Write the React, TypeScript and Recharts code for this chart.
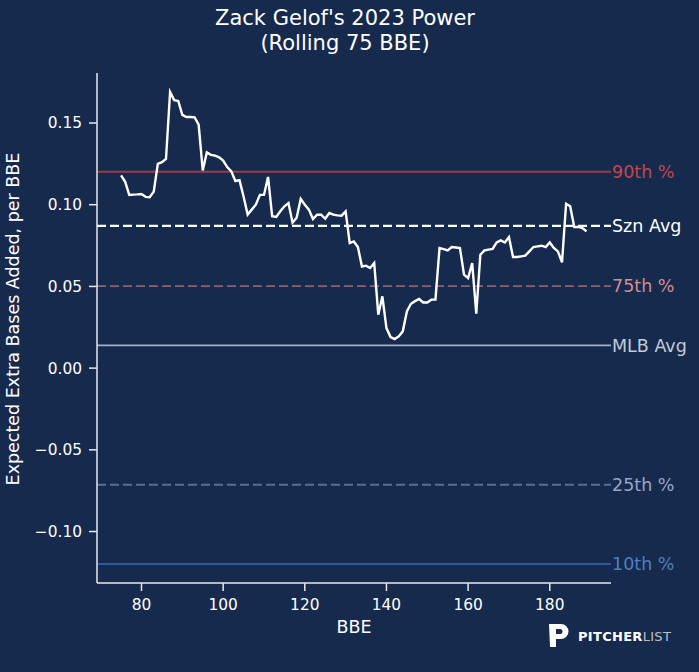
import React from 'react';
import { LineChart, Line, XAxis, YAxis, ReferenceLine } from 'recharts';

// rolling 75 BBE window end (x) and expected extra bases added per BBE (y)
const bbe: number[] = [
  75, 76, 77, 78, 79, 80, 81, 82, 83, 84, 85, 86, 87, 88, 89, 90, 91, 92, 93, 94,
  95, 96, 97, 98, 99, 100, 101, 102, 103, 104, 105, 106, 107, 108, 109, 110, 111, 112, 113, 114,
  115, 116, 117, 118, 119, 120, 121, 122, 123, 124, 125, 126, 127, 128, 129, 130, 131, 132, 133, 134,
  135, 136, 137, 138, 139, 140, 141, 142, 143, 144, 145, 146, 147, 148, 149, 150, 151, 152, 153, 154,
  155, 156, 157, 158, 159, 160, 161, 162, 163, 164, 165, 166, 167, 168, 169, 170, 171, 172, 173, 174,
  175, 176, 177, 178, 179, 180, 181, 182, 183, 184, 185, 186, 187, 188, 189,
];

const xeba: number[] = [
  0.118, 0.114, 0.106, 0.1062, 0.1063, 0.1065, 0.1048, 0.1046, 0.108, 0.125,
  0.126, 0.128, 0.169, 0.164, 0.1635, 0.155, 0.1537, 0.1537, 0.1535, 0.149,
  0.121, 0.132, 0.1305, 0.13, 0.129, 0.127, 0.123, 0.1204, 0.1145, 0.115,
  0.105, 0.094, 0.097, 0.1, 0.106, 0.106, 0.117, 0.093, 0.0925, 0.096,
  0.099, 0.101, 0.089, 0.092, 0.1035, 0.1, 0.097, 0.0912, 0.0939, 0.0939,
  0.0914, 0.0949, 0.0939, 0.0935, 0.0933, 0.0959, 0.0765, 0.0775, 0.0741, 0.0622,
  0.0627, 0.0613, 0.0643, 0.0327, 0.0439, 0.0245, 0.019, 0.0178, 0.0194, 0.0225,
  0.0347, 0.0394, 0.041, 0.0423, 0.0402, 0.0402, 0.0419, 0.0419, 0.0735, 0.0728,
  0.072, 0.0741, 0.0738, 0.0735, 0.0572, 0.0551, 0.0643, 0.0333, 0.0694, 0.072,
  0.0725, 0.0729, 0.0769, 0.0782, 0.0769, 0.0802, 0.068, 0.068, 0.0684, 0.0688,
  0.0714, 0.0741, 0.0745, 0.0749, 0.0741, 0.0769, 0.0735, 0.0714, 0.0647, 0.1006,
  0.099, 0.0864, 0.0864, 0.0857, 0.0837,
];

const refLabels = ['90th %', 'Szn Avg', '75th %', 'MLB Avg', '25th %', '10th %'];
const refValues = [0.1202, 0.087, 0.0502, 0.0139, -0.0714, -0.1199];
const refLineColors = ['#a13a43', '#ffffff', '#8a6172', '#a7b1c4', '#5b6f95', '#2b5aa2'];
const refTextColors = ['#c2474d', '#ffffff', '#d28d8d', '#c2cad8', '#93a6c7', '#4f7fc1'];
const refDashed = [false, true, true, false, true, false];

const xTicks = [80, 100, 120, 140, 160, 180];
const yTicks = [-0.1, -0.05, 0, 0.05, 0.1, 0.15];

const BG = '#162a4d';
const FONT = '"DejaVu Sans", sans-serif';
const AXIS = '#e8e8e8';

const data = bbe.map((b, i) => ({ bbe: b, xeba: xeba[i] }));

const fmtY = (v: number) => (v < 0 ? '\u2212' : '') + Math.abs(v).toFixed(2);

export default function App() {
  return (
    <div style={{ position: 'absolute', left: 0, top: 0, width: 699, height: 672, background: BG, fontFamily: FONT }}>
      <LineChart width={699} height={672} data={data} margin={{ top: 73, right: 88, left: 0, bottom: 0 }}>
        <XAxis
          dataKey="bbe"
          type="number"
          domain={[69.1, 195]}
          allowDataOverflow
          ticks={xTicks}
          height={89}
          stroke={AXIS}
          strokeWidth={1.5}
          tickSize={8}
          tickMargin={8}
          tick={{ fill: '#ffffff', fontSize: 15.4, fontFamily: FONT }}
        />
        <YAxis
          type="number"
          domain={[-0.1315, 0.1806]}
          allowDataOverflow
          ticks={yTicks}
          width={97}
          stroke={AXIS}
          strokeWidth={1.5}
          tickSize={8}
          tickMargin={7}
          tickFormatter={fmtY}
          tick={{ fill: '#ffffff', fontSize: 15.4, fontFamily: FONT }}
        />
        {refValues.map((v, i) => (
          <ReferenceLine
            key={refLabels[i]}
            y={v}
            stroke={refLineColors[i]}
            strokeWidth={i === 1 ? 2.2 : 1.9}
            strokeDasharray={refDashed[i] ? '9 4' : undefined}
            label={{
              value: refLabels[i],
              position: 'right',
              offset: 1,
              fill: refTextColors[i],
              fontSize: 17.5,
              fontFamily: FONT,
            }}
          />
        ))}
        <Line
          type="linear"
          dataKey="xeba"
          stroke="#ffffff"
          strokeWidth={2.4}
          dot={false}
          isAnimationActive={false}
        />
      </LineChart>
      <svg
        width={699}
        height={672}
        style={{ position: 'absolute', left: 0, top: 0, pointerEvents: 'none' }}
      >
        <text x={345} y={25} textAnchor="middle" fill="#ffffff" fontSize={21} fontFamily={FONT}>
          Zack Gelof's 2023 Power
        </text>
        <text x={345} y={50} textAnchor="middle" fill="#ffffff" fontSize={21} fontFamily={FONT}>
          (Rolling 75 BBE)
        </text>
        <text
          x={13}
          y={319}
          transform="rotate(-90 13 319)"
          textAnchor="middle"
          dominantBaseline="central"
          fill="#ffffff"
          fontSize={17.5}
          fontFamily={FONT}
        >
          Expected Extra Bases Added, per BBE
        </text>
        <text x={354} y={633} textAnchor="middle" fill="#ffffff" fontSize={17.5} fontFamily={FONT}>
          BBE
        </text>
        {/* Pitcher List logo */}
        <path d="M549 624 L561 624 A7.5 7.5 0 0 1 561 639 L556 639 L556 647 L550 647 Z" fill="#ffffff" />
        <path d="M556 629 L560 629 A2.5 2.5 0 0 1 560 634 L556 634 Z" fill={BG} />
        <text x={578} y={641} fill="#ffffff" fontSize={13} fontWeight="bold" letterSpacing={0.3} fontFamily={FONT}>
          PITCHER
          <tspan fill="#b9c0cc" fontWeight="normal">LIST</tspan>
        </text>
      </svg>
    </div>
  );
}
